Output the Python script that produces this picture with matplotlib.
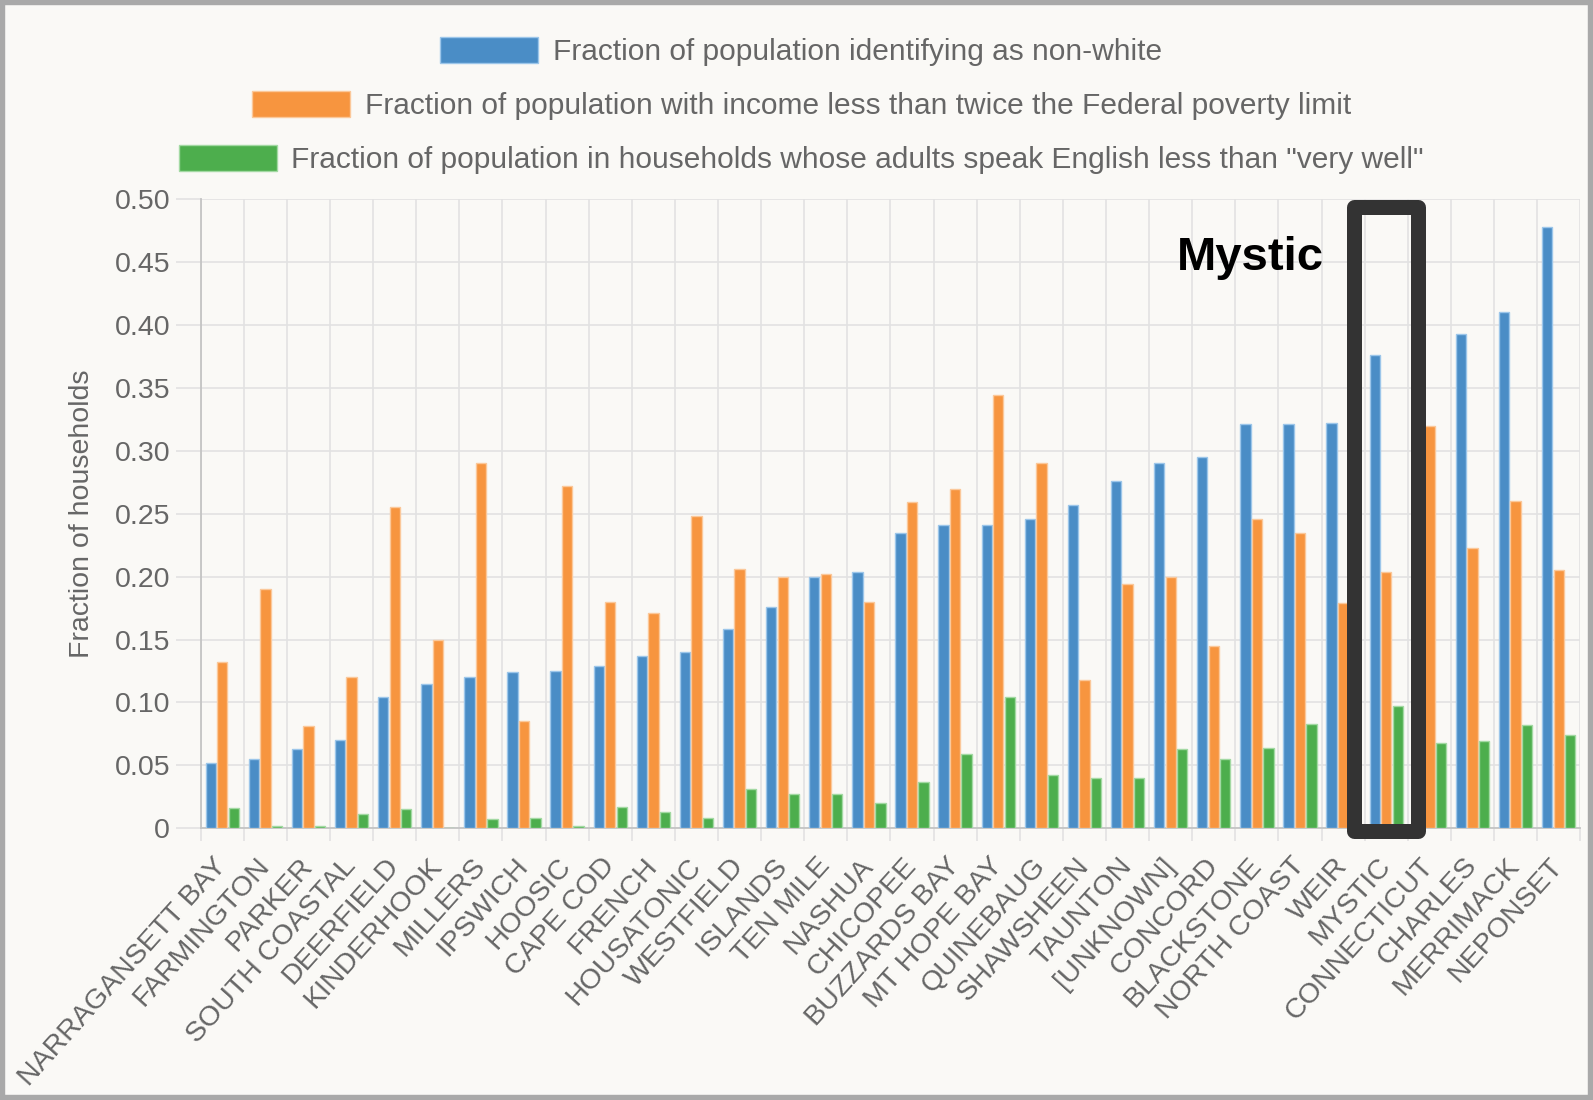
import numpy as np
import matplotlib
matplotlib.use("Agg")
from matplotlib import pyplot as plt
from matplotlib.patches import Rectangle
from matplotlib.ticker import FixedLocator, FuncFormatter

plt.rcParams['font.family'] = ['Liberation Sans', 'DejaVu Sans']

# watersheds, sorted by non-white fraction
watersheds = ["NARRAGANSETT BAY", "FARMINGTON", "PARKER", "SOUTH COASTAL", "DEERFIELD",
              "KINDERHOOK", "MILLERS", "IPSWICH", "HOOSIC", "CAPE COD", "FRENCH",
              "HOUSATONIC", "WESTFIELD", "ISLANDS", "TEN MILE", "NASHUA", "CHICOPEE",
              "BUZZARDS BAY", "MT HOPE BAY", "QUINEBAUG", "SHAWSHEEN", "TAUNTON",
              "[UNKNOWN]", "CONCORD", "BLACKSTONE", "NORTH COAST", "WEIR", "MYSTIC",
              "CONNECTICUT", "CHARLES", "MERRIMACK", "NEPONSET"]
nonwhite = [0.052, 0.055, 0.063, 0.070, 0.104, 0.115, 0.120, 0.124, 0.125, 0.129, 0.137,
            0.140, 0.158, 0.176, 0.200, 0.204, 0.235, 0.241, 0.241, 0.246, 0.257, 0.276,
            0.290, 0.295, 0.321, 0.321, 0.322, 0.376, 0.385, 0.393, 0.410, 0.478]
low_income = [0.132, 0.190, 0.081, 0.120, 0.255, 0.150, 0.290, 0.085, 0.272, 0.180, 0.171,
              0.248, 0.206, 0.200, 0.202, 0.180, 0.259, 0.270, 0.344, 0.290, 0.118, 0.194,
              0.200, 0.145, 0.246, 0.235, 0.179, 0.204, 0.320, 0.223, 0.260, 0.205]
limited_english = [0.016, 0.002, 0.002, 0.011, 0.015, 0.0, 0.007, 0.008, 0.002, 0.017, 0.013,
                   0.008, 0.031, 0.027, 0.027, 0.020, 0.037, 0.059, 0.104, 0.042, 0.040, 0.040,
                   0.063, 0.055, 0.064, 0.083, 0.050, 0.097, 0.068, 0.069, 0.082, 0.074]
series_labels = ["Fraction of population identifying as non-white",
                 "Fraction of population with income less than twice the Federal poverty limit",
                 "Fraction of population in households whose adults speak English less than \"very well\""]
highlight = "MYSTIC"

colors = ["#4a8dc6", "#f7953f", "#4dae4d"]
edges = ["#9cc6ea", "#fbc89a", "#a3d9a3"]
text_gray = "#666666"
grid_gray = "#e2e2e2"

fig = plt.figure(figsize=(15.93, 11.0), dpi=100, facecolor="#faf9f6")
ax = fig.add_axes([0.126, 0.247, 0.866, 0.572])
ax.set_facecolor("#faf9f6")

x = np.arange(len(watersheds))
slot = 0.8 / 3
handles = []
for k, vals in enumerate([nonwhite, low_income, limited_english]):
    b = ax.bar(x + (k - 1) * slot, vals, width=0.24, color=colors[k],
               edgecolor=edges[k], linewidth=1, zorder=3, label=series_labels[k])
    handles.append(b)

ax.set_xlim(-0.5, len(watersheds) - 0.5)
ax.set_ylim(0, 0.5)

# category labels at centers, grid lines at boundaries
ax.set_xticks(x)
ax.set_xticklabels(watersheds, rotation=48, rotation_mode="anchor", ha="right", va="center",
                   fontsize=20.5, color=text_gray)
ax.tick_params(axis="x", which="major", length=0, pad=24)
ax.xaxis.set_minor_locator(FixedLocator(np.arange(-0.5, len(watersheds), 1.0)))
ax.tick_params(axis="x", which="minor", length=9, width=1.2, color=grid_gray)
ax.grid(True, axis="x", which="minor", color=grid_gray, linewidth=1.2, zorder=0)

ax.set_yticks(np.arange(0, 0.501, 0.05))
ax.yaxis.set_major_formatter(FuncFormatter(lambda v, p: "0" if v == 0 else f"{v:.2f}"))
ax.tick_params(axis="y", length=18, width=1.2, color=grid_gray, pad=4, labelsize=20.5,
               labelcolor=text_gray)
ax.grid(True, axis="y", color=grid_gray, linewidth=1.2, zorder=0)

for s in ["top", "right"]:
    ax.spines[s].set_visible(False)
for s in ["left", "bottom"]:
    ax.spines[s].set_color("#c4c4c4")
    ax.spines[s].set_linewidth(1.3)

ax.set_ylabel("Fraction of households", fontsize=20.5, color=text_gray, labelpad=14)

# one centered legend row per series
for k, yy in enumerate([0.953, 0.904, 0.855]):
    fig.legend(handles=[handles[k]], loc="center", bbox_to_anchor=(0.503, yy), frameon=False,
               fontsize=21.5, labelcolor=text_gray, handlelength=3.28, handleheight=0.97,
               handletextpad=0.5, borderpad=0)

# highlight box and label
m = watersheds.index(highlight)
ax.add_patch(Rectangle((m - 0.74, -0.002), 1.48, 0.4956, fill=False, edgecolor="#333333",
                       linewidth=10.8, joinstyle="round", zorder=5, clip_on=False))
ax.text(m - 1.44, 0.444, "Mystic", fontsize=34, fontweight="bold", color="black",
        ha="right", va="baseline", zorder=6)

fig.patches.append(Rectangle((0, 0), 1, 1, transform=fig.transFigure, fill=False,
                             edgecolor="#a9a9a9", linewidth=7.5))

fig.savefig("out.png", dpi=100, facecolor=fig.get_facecolor())
